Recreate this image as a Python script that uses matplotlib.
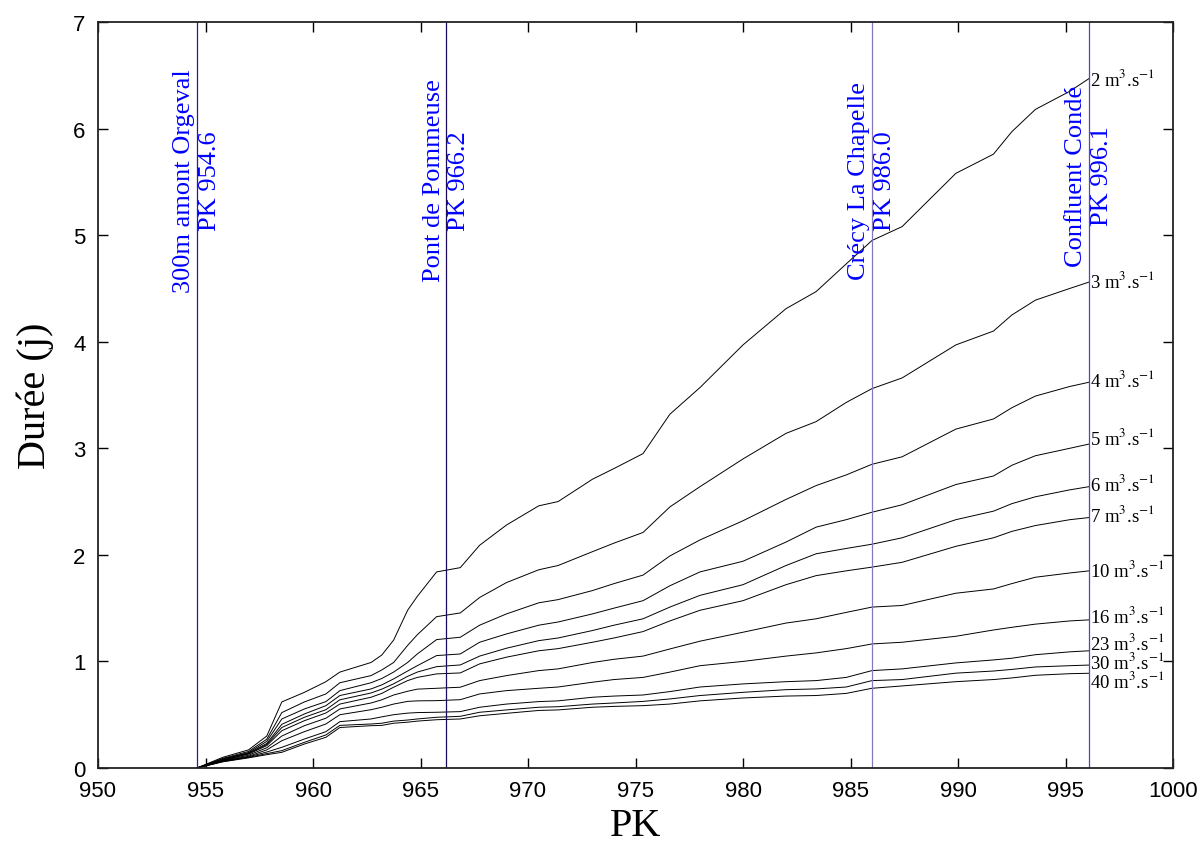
import numpy as np
from matplotlib import pyplot as plt

plt.rcParams['mathtext.fontset'] = 'stix'

# travel time (days) along the river, one curve per discharge
pk = [954.6, 955.8, 957.0, 957.85, 958.55, 959.6, 960.6, 961.25, 962.7, 963.2,
      963.75, 964.4, 964.85, 965.75, 966.85, 967.75, 969.0, 970.5, 971.4, 973.0,
      974.0, 975.35, 976.6, 978.0, 980.0, 982.0, 983.4, 984.8, 986.0, 987.4,
      989.9, 991.65, 992.5, 993.6, 995.2, 996.1]

q2 = [0, 0.10, 0.17, 0.30, 0.62, 0.71, 0.81, 0.90, 0.99, 1.06,
      1.20, 1.48, 1.61, 1.84, 1.88, 2.09, 2.28, 2.46, 2.50, 2.71,
      2.81, 2.95, 3.32, 3.57, 3.97, 4.31, 4.47, 4.73, 4.95, 5.08,
      5.58, 5.76, 5.97, 6.18, 6.35, 6.47]
q3 = [0, 0.09, 0.155, 0.27, 0.52, 0.62, 0.695, 0.80, 0.867, 0.92,
      0.99, 1.15, 1.25, 1.42, 1.455, 1.60, 1.74, 1.86, 1.90, 2.03,
      2.11, 2.21, 2.45, 2.64, 2.90, 3.14, 3.25, 3.43, 3.56, 3.66,
      3.97, 4.10, 4.25, 4.39, 4.50, 4.56]
q4 = [0, 0.085, 0.145, 0.25, 0.46, 0.554, 0.623, 0.726, 0.80, 0.84,
      0.90, 0.99, 1.07, 1.205, 1.227, 1.34, 1.446, 1.55, 1.58, 1.665,
      1.73, 1.81, 1.99, 2.14, 2.32, 2.52, 2.65, 2.75, 2.85, 2.92,
      3.18, 3.275, 3.38, 3.49, 3.58, 3.62]
q5 = [0, 0.08, 0.14, 0.23, 0.41, 0.507, 0.585, 0.68, 0.742, 0.78,
      0.836, 0.91, 0.96, 1.055, 1.07, 1.18, 1.258, 1.34, 1.37, 1.446,
      1.50, 1.57, 1.71, 1.84, 1.94, 2.12, 2.26, 2.33, 2.40, 2.47,
      2.66, 2.74, 2.84, 2.93, 3.00, 3.04]
q6 = [0, 0.075, 0.135, 0.22, 0.38, 0.476, 0.547, 0.64, 0.704, 0.74,
      0.79, 0.86, 0.90, 0.951, 0.967, 1.05, 1.124, 1.195, 1.22, 1.29,
      1.34, 1.40, 1.51, 1.62, 1.72, 1.90, 2.01, 2.06, 2.10, 2.16,
      2.33, 2.41, 2.48, 2.545, 2.61, 2.64]
q7 = [0, 0.072, 0.13, 0.21, 0.35, 0.444, 0.516, 0.60, 0.664, 0.70,
      0.758, 0.82, 0.85, 0.883, 0.892, 0.977, 1.04, 1.10, 1.12, 1.18,
      1.22, 1.28, 1.38, 1.48, 1.57, 1.72, 1.805, 1.85, 1.885, 1.93,
      2.08, 2.16, 2.22, 2.275, 2.33, 2.35]
q10 = [0, 0.068, 0.12, 0.19, 0.30, 0.397, 0.467, 0.554, 0.61, 0.64,
       0.685, 0.72, 0.74, 0.748, 0.758, 0.82, 0.867, 0.914, 0.93, 0.99,
       1.02, 1.05, 1.117, 1.19, 1.274, 1.36, 1.40, 1.46, 1.51, 1.525,
       1.64, 1.68, 1.73, 1.79, 1.83, 1.85]
q16 = [0, 0.065, 0.11, 0.17, 0.256, 0.341, 0.413, 0.50, 0.547, 0.57,
       0.60, 0.625, 0.63, 0.632, 0.641, 0.695, 0.726, 0.748, 0.76, 0.805,
       0.83, 0.85, 0.90, 0.96, 1.00, 1.05, 1.08, 1.12, 1.164, 1.18,
       1.236, 1.295, 1.32, 1.35, 1.38, 1.39]
q23 = [0, 0.062, 0.105, 0.15, 0.194, 0.272, 0.341, 0.435, 0.46, 0.48,
       0.50, 0.515, 0.52, 0.523, 0.529, 0.57, 0.60, 0.623, 0.63, 0.664,
       0.675, 0.685, 0.717, 0.76, 0.789, 0.81, 0.82, 0.85, 0.914, 0.93,
       0.986, 1.014, 1.03, 1.063, 1.09, 1.10]
q30 = [0, 0.06, 0.10, 0.135, 0.163, 0.241, 0.31, 0.40, 0.413, 0.42,
       0.44, 0.45, 0.46, 0.476, 0.485, 0.523, 0.545, 0.57, 0.575, 0.60,
       0.61, 0.625, 0.648, 0.68, 0.71, 0.735, 0.742, 0.76, 0.82, 0.83,
       0.89, 0.91, 0.925, 0.948, 0.96, 0.966]
q40 = [0, 0.058, 0.095, 0.125, 0.147, 0.225, 0.288, 0.38, 0.397, 0.40,
       0.42, 0.43, 0.44, 0.453, 0.46, 0.49, 0.513, 0.54, 0.545, 0.57,
       0.578, 0.585, 0.60, 0.63, 0.657, 0.675, 0.68, 0.70, 0.748, 0.77,
       0.81, 0.83, 0.845, 0.87, 0.885, 0.889]

flows = [2, 3, 4, 5, 6, 7, 10, 16, 23, 30, 40]
durations = [q2, q3, q4, q5, q6, q7, q10, q16, q23, q30, q40]
# small vertical nudges so the flow labels do not collide
label_dy = [0, 0.01, 0.03, 0.06, 0.03, 0.03, 0.01, 0.04, 0.08, 0.03, -0.07]

# reference points along the river
site_pk = [954.6, 966.2, 986.0, 996.1]
site_names = ['300m amont Orgeval', 'Pont de Pommeuse',
              'Crécy La Chapelle', 'Confluent Condé']
site_colors = ['#2b1d8f', '#1a0a60', '#8878bb', '#5646a6']
site_text_y = [5.52, 5.52, 5.52, 5.56]

fig = plt.figure(figsize=(11.98, 8.45), dpi=100)
ax = fig.add_axes([98/1198, 76/845, 1075/1198, 746/845])

for f, d in zip(flows, durations):
    ax.plot(pk, d, '-k', linewidth=0.7)

for f, d, dy in zip(flows, durations, label_dy):
    ax.text(996.15, d[-1] + dy, f'{f} m$^3$.s$^{{-1}}$',
            family='Liberation Serif', fontsize=13.5,
            horizontalalignment='left', verticalalignment='center')

for p, name, c, ty in zip(site_pk, site_names, site_colors, site_text_y):
    ax.axvline(p, color=c, linewidth=0.9)
    ax.text(p, ty, f'{name}\nPK {p:.1f}', rotation=90,
            family='Liberation Serif', fontsize=19, color='#0000ff',
            horizontalalignment='center', verticalalignment='center',
            multialignment='center', linespacing=1.2)

ax.set_xlim(950, 1000)
ax.set_ylim(0, 7)
ax.set_xticks(np.arange(950, 1001, 5))
ax.set_yticks(np.arange(0, 8, 1))
ax.tick_params(direction='in', length=7, width=1, top=True, right=True,
               labelsize=16, pad=9)
for lab in ax.get_xticklabels() + ax.get_yticklabels():
    lab.set_family('Liberation Sans')
for sp in ax.spines.values():
    sp.set_linewidth(1.3)
    sp.set_color('#222222')

ax.set_xlabel('PK', family='Liberation Serif', fontsize=29, labelpad=4)
ax.set_ylabel('Durée (j)', family='Liberation Serif', fontsize=29, labelpad=14)

fig.savefig('out.png', dpi=100)
